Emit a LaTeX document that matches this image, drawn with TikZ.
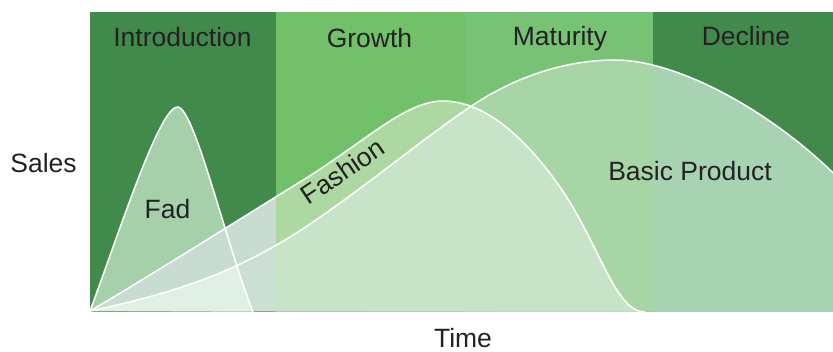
\documentclass[tikz,border=0pt]{standalone}
\usepackage{fontspec}
\setmainfont{Liberation Sans}
\usepackage{tikz}
\usepackage{xcolor}
\definecolor{stagedark}{RGB}{66,137,76}
\definecolor{stagegrow}{RGB}{115,192,106}
\definecolor{stagemat}{RGB}{120,194,118}
\definecolor{fadfill}{RGB}{165,208,170}
\definecolor{fashintro}{RGB}{200,220,210}
\definecolor{fashgrow}{RGB}{173,216,162}
\definecolor{basintro}{RGB}{203,224,211}
\definecolor{basmat}{RGB}{168,213,165}
\definecolor{basdec}{RGB}{168,211,179}
\definecolor{bothmat}{RGB}{200,228,200}
\definecolor{fadbas}{RGB}{225,240,228}
\definecolor{labeltext}{RGB}{34,34,34}
\newcommand{\fadcurve}{(90,311) .. controls (120,230) and (160,105) .. (178,107) .. controls (195,110) and (225,240) .. (253,312)}
\newcommand{\fashioncurve}{(90,311) .. controls (150,276) and (230,225) .. (300,182) .. controls (365,142) and (405,101) .. (443,101) .. controls (480,101) and (520,130) .. (560,187) .. controls (600,245) and (615,312) .. (645,312)}
\newcommand{\basiccurve}{(90,311) .. controls (180,292) and (230,272) .. (280,243) .. controls (340,208) and (420,140) .. (473,105) .. controls (520,74) and (570,60) .. (615,60) .. controls (680,60) and (780,115) .. (850,190)}

\begin{document}
\begin{tikzpicture}[x=0.03cm, y=-0.03cm,
  stagelabel/.style={anchor=base, inner sep=0pt, text=labeltext, font=\fontsize{22.6}{27}\selectfont},
  curveline/.style={draw=white, line width=1.3pt}]
\useasboundingbox (0,0) rectangle (833,351);
\begin{scope}
\clip (90,12) rectangle (833,312);
\fill[stagedark] (90,12) rectangle (276,312);
\fill[stagegrow] (276,12) rectangle (465,312);
\fill[stagemat] (465,12) rectangle (653,312);
\fill[stagedark] (653,12) rectangle (833,312);
\fill[fadfill] \fadcurve -- cycle;
\begin{scope}
\clip \fashioncurve -- cycle;
\fill[fashintro] (90,12) rectangle (276,312);
\fill[fashgrow] (276,12) rectangle (833,312);
\end{scope}
\begin{scope}
\clip \basiccurve -- (850,312) -- cycle;
\fill[basintro] (90,12) rectangle (276,312);
\fill[basmat] (276,12) rectangle (653,312);
\fill[basdec] (653,12) rectangle (833,312);
\clip \fashioncurve -- cycle;
\fill[bothmat] (276,12) rectangle (653,312);
\end{scope}
\begin{scope}
\clip \basiccurve -- (850,312) -- cycle;
\clip \fadcurve -- cycle;
\fill[fadbas] (90,12) rectangle (276,312);
\end{scope}
\draw[curveline] \fadcurve;
\draw[curveline] \fashioncurve;
\draw[curveline] \basiccurve;
\end{scope}
\node[stagelabel] (intro) at (182.5,46.5) {Introduction};
\node[stagelabel] (growth) at (369.5,47.5) {Growth};
\node[stagelabel] (maturity) at (560,45.5) {Maturity};
\node[stagelabel] (decline) at (746,45) {Decline};
\node[stagelabel] (fad) at (167.5,218) {Fad};
\node[stagelabel, rotate=34] (fashion) at (348,179) {Fashion};
\node[stagelabel] (basic) at (690,180) {Basic Product};
\node[stagelabel] (sales) at (43.5,172) {Sales};
\node[stagelabel] (time) at (463,347) {Time};
\end{tikzpicture}
\end{document}
